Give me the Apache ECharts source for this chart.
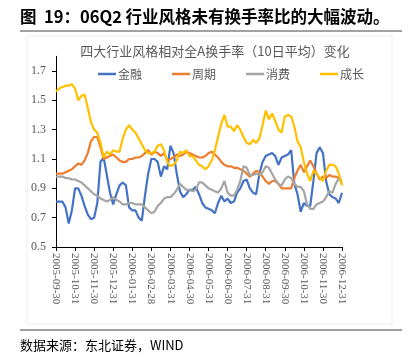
<!DOCTYPE html>
<html><head><meta charset="utf-8">
<script src="https://cdn.jsdelivr.net/npm/echarts@6/dist/echarts.min.js"></script>
<style>html,body{margin:0;padding:0;background:#fff}#c{width:408px;height:361px}</style>
</head><body><div id="c"></div>
<script>
var monthLabels = ['2005-09-30','2005-10-31','2005-11-30','2005-12-31','2006-01-31','2006-02-28','2006-03-31','2006-04-30','2006-05-31','2006-06-30','2006-07-31','2006-08-31','2006-09-30','2006-10-31','2006-11-30','2006-12-31'];
var seriesNames = ['金融','周期','消费','成长'];
var finance = [0.81,0.81,0.81,0.77,0.66,0.75,0.90,0.90,0.85,0.78,0.72,0.69,0.70,0.80,1.08,1.11,0.99,0.87,0.79,0.86,0.92,0.94,0.92,0.77,0.75,0.75,0.70,0.68,0.85,1.00,1.10,1.10,1.08,0.98,1.05,1.03,1.19,1.14,1.00,0.88,0.84,0.86,0.89,0.89,0.91,0.86,0.80,0.77,0.76,0.75,0.73,0.80,0.85,0.81,0.83,0.80,0.81,0.87,0.90,0.95,0.96,0.90,0.87,0.86,1.00,1.08,1.12,1.13,1.14,1.12,1.06,1.11,1.12,1.13,1.16,0.93,0.86,0.74,0.80,0.78,0.78,0.95,1.14,1.18,1.14,0.95,0.86,0.84,0.83,0.80,0.87];
var cyclical = [1.00,1.00,1.00,1.01,1.02,1.03,1.05,1.07,1.06,1.09,1.14,1.22,1.25,1.25,1.18,1.10,1.11,1.12,1.13,1.11,1.09,1.08,1.08,1.10,1.10,1.11,1.11,1.12,1.14,1.16,1.13,1.15,1.14,1.12,1.14,1.09,1.10,1.11,1.13,1.12,1.13,1.15,1.14,1.13,1.12,1.11,1.11,1.12,1.14,1.15,1.13,1.11,1.08,1.06,1.05,1.05,1.04,1.04,1.03,1.02,1.00,0.98,1.00,1.02,1.01,0.98,0.95,0.93,0.95,0.95,0.93,0.90,0.90,0.90,0.90,0.97,1.02,1.06,1.01,1.05,1.09,1.05,1.00,0.96,0.98,0.97,0.99,0.98,0.98,0.97,0.95];
var consumer = [0.98,0.98,0.98,0.97,0.97,0.96,0.96,0.95,0.94,0.92,0.90,0.88,0.86,0.85,0.83,0.82,0.81,0.82,0.84,0.82,0.81,0.79,0.79,0.80,0.80,0.79,0.79,0.79,0.77,0.75,0.73,0.74,0.78,0.80,0.83,0.84,0.84,0.86,0.89,0.93,0.91,0.89,0.89,0.88,0.89,0.94,0.94,0.92,0.90,0.89,0.88,0.87,0.90,0.95,0.87,0.85,0.85,0.89,0.95,1.05,1.04,0.99,0.99,1.00,0.99,1.01,1.05,1.04,1.00,0.96,0.93,0.92,0.96,0.98,0.97,0.93,0.91,0.91,0.88,0.79,0.76,0.76,0.79,0.80,0.81,0.84,0.88,0.87,0.93,0.97,0.93];
var growth = [1.56,1.58,1.59,1.60,1.60,1.61,1.58,1.50,1.53,1.54,1.45,1.35,1.30,1.28,1.21,1.11,1.15,1.13,1.16,1.15,1.15,1.24,1.30,1.33,1.30,1.28,1.24,1.20,1.16,1.14,1.14,1.15,1.19,1.20,1.16,1.08,1.05,1.06,1.09,1.15,1.14,1.16,1.12,1.12,1.09,1.06,1.05,1.03,1.05,1.09,1.16,1.25,1.34,1.40,1.32,1.32,1.29,1.33,1.30,1.25,1.21,1.20,1.23,1.21,1.24,1.33,1.43,1.37,1.41,1.36,1.30,1.28,1.39,1.40,1.39,1.32,1.22,1.18,1.08,1.00,0.95,1.02,1.00,0.97,0.95,1.02,1.06,1.06,1.05,1.00,0.92];
var pointsPerMonth = 6;

var categories = [];
for (var m = 0; m < monthLabels.length; m++) {
  categories.push(monthLabels[m]);
  if (m < monthLabels.length - 1) {
    for (var k = 1; k < pointsPerMonth; k++) categories.push(monthLabels[m] + '+' + k);
  }
}
var colors = ['#4472C4','#ED7D31','#A5A5A5','#FFC000'];
var values = [finance, cyclical, consumer, growth];
var chart = echarts.init(document.getElementById('c'));
var cjk = '"Noto Sans CJK SC", sans-serif';
chart.setOption({
  animation: false,
  title: {
    text: '四大行业风格相对全A换手率（10日平均）变化',
    left: 210, top: 40, textAlign: 'center',
    textStyle: {fontSize: 13, fontWeight: 'normal', color: '#595959', fontFamily: cjk}
  },
  graphic: [
    {type: 'text', left: 20, top: 8, style: {text: '图  19：06Q2 行业风格未有换手率比的大幅波动。', font: 'bold 16.5px "Noto Sans CJK SC"', fill: '#000'}},
    {type: 'line', shape: {x1: 20, y1: 31, x2: 402, y2: 31}, style: {stroke: '#444', lineWidth: 1.2}},
    {type: 'rect', shape: {x: 27, y: 36, width: 365, height: 288}, style: {fill: 'none', stroke: '#eeeeee', lineWidth: 1}},
    {type: 'line', shape: {x1: 20, y1: 330, x2: 402, y2: 330}, style: {stroke: '#444', lineWidth: 1.2}},
    {type: 'text', left: 20, top: 339, style: {text: '数据来源：东北证券，WIND', font: '13px "Noto Sans CJK SC"', fill: '#000'}}
  ],
  legend: {
    data: seriesNames, left: 93, top: 63, icon: 'rect', itemWidth: 18, itemHeight: 2.5, itemGap: 30,
    textStyle: {fontSize: 12, color: '#595959', fontFamily: cjk, padding: [0,0,0,-3]}
  },
  grid: {left: 56, right: 66, top: 56.3, bottom: 114},
  xAxis: {
    type: 'category', data: categories, boundaryGap: false,
    axisLine: {lineStyle: {color: '#000', width: 1}},
    axisTick: {show: true, interval: function (i) { return i % pointsPerMonth === 0; }, length: 4, lineStyle: {color: '#000'}},
    axisLabel: {interval: function (i) { return i % pointsPerMonth === 0; }, rotate: -90, fontSize: 11, color: '#595959', fontFamily: '"Liberation Serif", serif', margin: 6}
  },
  yAxis: {
    type: 'value', min: 0.5, max: 1.8, interval: 0.2,
    splitLine: {show: false},
    axisLine: {show: true, lineStyle: {color: '#000', width: 1}},
    axisTick: {show: true, length: 4, lineStyle: {color: '#000'}},
    axisLabel: {showMaxLabel: false, formatter: function (v) { return v.toFixed(1); }, fontSize: 12, color: '#595959', fontFamily: '"Liberation Serif", serif', margin: 10}
  },
  series: seriesNames.map(function (n, i) {
    return {name: n, type: 'line', data: values[i], symbol: 'none', smooth: false,
      lineStyle: {color: colors[i], width: 2.2}, itemStyle: {color: colors[i]}};
  })
});
</script></body></html>
